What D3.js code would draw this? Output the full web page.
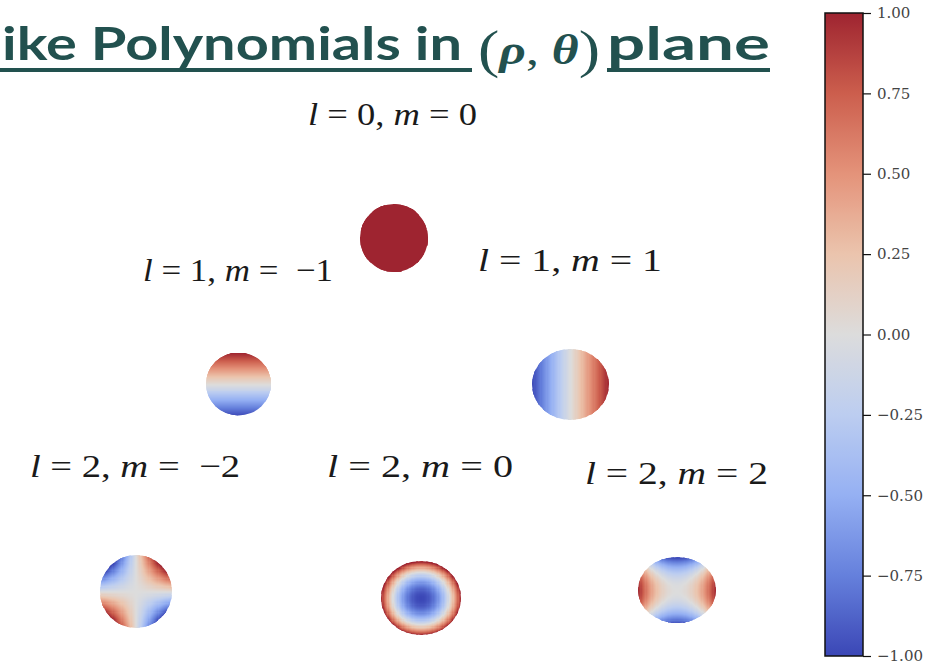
<!DOCTYPE html>
<html>
<head>
<meta charset="utf-8">
<script src="https://cdn.jsdelivr.net/npm/d3@7"></script>
<style>
  html, body { margin: 0; padding: 0; background: #ffffff; }
  svg { display: block; }
</style>
</head>
<body>
<svg id="chart" width="943" height="667"></svg>
<script>
// Zernike modes shown, one entry per panel (radial degree l, azimuthal order m)
const degrees = [0, 1, 1, 2, 2, 2];
const orders  = [0, -1, 1, -2, 0, 2];

// Colour bar ticks
const cbarTicks = [-1.0, -0.75, -0.5, -0.25, 0.0, 0.25, 0.5, 0.75, 1.0];
const cbarDomain = [-1, 1];

// Title pieces
const titleLead = "ike Polynomials in";
const titleTail = "plane";

// Zernike polynomials on the unit disc, written in cartesian form (y up)
const zernike = {
  "0,0":  (x, y) => 1,
  "1,-1": (x, y) => y,                       // rho sin(theta)
  "1,1":  (x, y) => x,                       // rho cos(theta)
  "2,-2": (x, y) => 2 * x * y,               // rho^2 sin(2 theta)
  "2,0":  (x, y) => 2 * (x * x + y * y) - 1, // 2 rho^2 - 1
  "2,2":  (x, y) => x * x - y * y            // rho^2 cos(2 theta)
};

// Panel geometry: disc centre/half-axes and label anchor (start x, baseline, width)
const panelLayout = {
  "0,0":  { cx: 394,   cy: 238,   rx: 34,   ry: 34,   lx: 308, ly: 125, lw: 169 },
  "1,-1": { cx: 238.5, cy: 384,   rx: 32.5, ry: 31.5, lx: 143, ly: 281, lw: 190 },
  "1,1":  { cx: 570.5, cy: 384.5, rx: 38.5, ry: 35.5, lx: 478, ly: 271, lw: 184 },
  "2,-2": { cx: 136,   cy: 591.5, rx: 36,   ry: 36.5, lx: 30,  ly: 477, lw: 210 },
  "2,0":  { cx: 421,   cy: 598,   rx: 40,   ry: 37,   lx: 327, ly: 477, lw: 186 },
  "2,2":  { cx: 677,   cy: 590,   rx: 39,   ry: 33,   lx: 585, ly: 484, lw: 183 }
};

// Diverging cool-warm colour map
const color = d3.scaleLinear()
  .domain([-1, -0.75, -0.5, -0.25, 0, 0.25, 0.5, 0.75, 1])
  .range(["#3b47b6", "#6580dc", "#95b0f3", "#bccdf0", "#dcdcdc",
          "#ebc4ad", "#e4937a", "#cc5e4d", "#9e2430"])
  .interpolate(d3.interpolateRgb)
  .clamp(true);

const svg = d3.select("#chart");
svg.append("rect").attr("width", 943).attr("height", 667).attr("fill", "#ffffff");

const defs = svg.append("defs");

// ---- Title ----
const titleColor = "#22514f";
const title = svg.append("g").attr("fill", titleColor);
title.append("text")
  .attr("x", 2).attr("y", 60)
  .attr("font-family", "Lato, 'Open Sans', sans-serif")
  .attr("font-weight", 700)
  .attr("font-size", 46)
  .attr("textLength", 460)
  .attr("lengthAdjust", "spacingAndGlyphs")
  .text(titleLead);
title.append("rect").attr("x", 0).attr("y", 68).attr("width", 472).attr("height", 4);

const mathTitle = title.append("text")
  .attr("x", 478).attr("y", 64)
  .attr("font-family", "'Liberation Serif', 'DejaVu Serif', serif")
  .attr("font-size", 42)
  .attr("textLength", 122)
  .attr("lengthAdjust", "spacingAndGlyphs");
mathTitle.append("tspan").attr("font-size", 52).attr("dy", 3).text("(");
mathTitle.append("tspan").attr("font-style", "italic").attr("font-weight", 700).attr("dy", -3).text("ρ");
mathTitle.append("tspan").text(", ");
mathTitle.append("tspan").attr("font-style", "italic").attr("font-weight", 700).text("θ");
mathTitle.append("tspan").attr("font-size", 52).attr("dy", 3).text(")");

title.append("text")
  .attr("x", 607).attr("y", 60)
  .attr("font-family", "Lato, 'Open Sans', sans-serif")
  .attr("font-weight", 700)
  .attr("font-size", 46)
  .attr("textLength", 163)
  .attr("lengthAdjust", "spacingAndGlyphs")
  .text(titleTail);
title.append("rect").attr("x", 607).attr("y", 68).attr("width", 163).attr("height", 4);

// ---- Panels ----
const N = 64;                                   // grid cells across each disc
const centres = d3.range(N).map(i => -1 + (i + 0.5) * 2 / N);

const modes = degrees.map((l, i) => ({ l, m: orders[i], key: `${l},${orders[i]}` }));

modes.forEach((mode, idx) => {
  const g = panelLayout[mode.key];
  const f = zernike[mode.key];
  const xs = d3.scaleLinear().domain([-1, 1]).range([g.cx - g.rx, g.cx + g.rx]);
  const ys = d3.scaleLinear().domain([-1, 1]).range([g.cy + g.ry, g.cy - g.ry]);

  const clipId = `disc-${idx}`;
  defs.append("clipPath").attr("id", clipId)
    .append("ellipse")
    .attr("cx", xs(0)).attr("cy", ys(0))
    .attr("rx", xs(1) - xs(0)).attr("ry", ys(-1) - ys(0));

  const cells = [];
  centres.forEach(u => centres.forEach(v => cells.push({ u, v, z: f(u, v) })));

  const half = 1 / N;
  const cw = xs(half) - xs(-half);
  const ch = ys(-half) - ys(half);

  svg.append("g")
    .attr("clip-path", `url(#${clipId})`)
    .selectAll("rect")
    .data(cells)
    .join("rect")
    .attr("x", d => xs(d.u - half))
    .attr("y", d => ys(d.v + half))
    .attr("width", cw + 0.6)
    .attr("height", ch + 0.6)
    .attr("fill", d => color(d.z))
    .attr("shape-rendering", "crispEdges");

  // label  l = .., m = ..
  const fmt = v => (v < 0 ? "\u2212" : "") + Math.abs(v);
  const label = svg.append("text")
    .attr("x", g.lx).attr("y", g.ly)
    .attr("font-family", "'Liberation Serif', 'DejaVu Serif', serif")
    .attr("font-size", 32)
    .attr("fill", "#1a1a1a")
    .attr("textLength", g.lw)
    .attr("lengthAdjust", "spacingAndGlyphs");
  label.append("tspan").attr("font-style", "italic").text("l");
  label.append("tspan").text(" = " + fmt(mode.l) + ", ");
  label.append("tspan").attr("font-style", "italic").text("m");
  label.append("tspan").text(mode.m < 0 ? " =\u00a0\u00a0" + fmt(mode.m) : " = " + fmt(mode.m));
});

// ---- Colour bar ----
const cb = { x: 825, y: 13, w: 38, h: 643 };
const cbScale = d3.scaleLinear().domain(cbarDomain).range([cb.y + cb.h, cb.y]);

const grad = defs.append("linearGradient").attr("id", "cbar-grad")
  .attr("x1", 0).attr("y1", 1).attr("x2", 0).attr("y2", 0);
d3.range(0, 1.0001, 1 / 64).forEach(t => {
  const v = cbarDomain[0] + t * (cbarDomain[1] - cbarDomain[0]);
  grad.append("stop").attr("offset", t).attr("stop-color", color(v));
});

svg.append("rect")
  .attr("x", cb.x).attr("y", cb.y).attr("width", cb.w).attr("height", cb.h)
  .attr("fill", "url(#cbar-grad)")
  .attr("stroke", "#111").attr("stroke-width", 1.5);

const cbAxis = d3.axisRight(cbScale)
  .tickValues(cbarTicks)
  .tickSize(8)
  .tickPadding(6)
  .tickFormat(v => {
    const s = d3.format(".2f")(Math.abs(v));
    return (v < 0 ? "\u2212" : "") + s;
  });

const axisG = svg.append("g")
  .attr("transform", `translate(${cb.x + cb.w},0)`)
  .call(cbAxis);
axisG.select(".domain").remove();
axisG.selectAll(".tick line").attr("stroke", "#111").attr("stroke-width", 1.2);
axisG.selectAll(".tick text")
  .attr("font-family", "'DejaVu Serif', serif")
  .attr("font-size", 15)
  .attr("fill", "#444");
</script>
</body>
</html>
